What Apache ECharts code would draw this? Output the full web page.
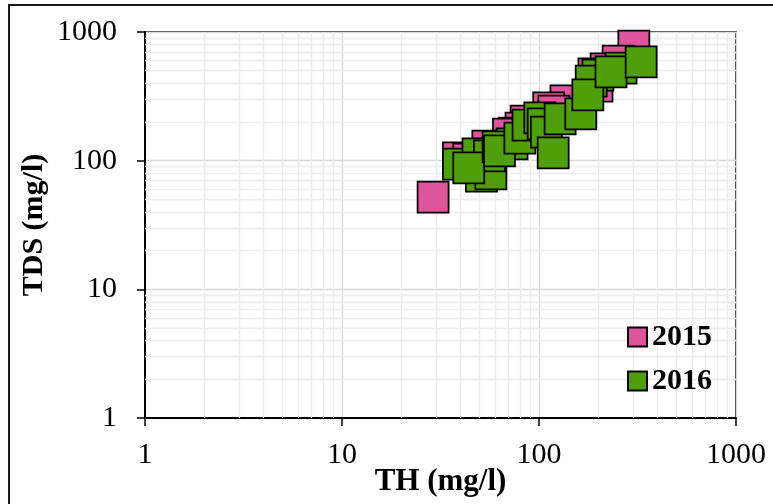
<!DOCTYPE html>
<html><head><meta charset="utf-8">
<script src="https://cdn.jsdelivr.net/npm/echarts@6/dist/echarts.min.js"></script>
<style>html,body{margin:0;padding:0;background:#fff}#c{width:773px;height:504px}</style>
</head><body><div id="c"></div>
<script>
// 2015 series (TH, TDS in mg/l)
const th2015  = [29, 303, 252, 219, 190, 197, 137, 112, 119, 86, 81, 75, 70, 55, 39, 44];
const tds2015 = [52, 778, 595, 516, 472, 380, 291, 257, 243, 203, 179, 164, 161, 130, 105, 103];
// 2016 series
const th2016  = [39, 51, 57, 49, 56, 44, 73, 62, 63, 80, 88, 101, 105, 109, 128, 163, 199, 184, 177, 261, 232, 330, 118];
const tds2016 = [94, 76, 79, 113, 109, 88, 135, 128, 119, 150, 189, 215, 193, 167, 211, 231, 463, 416, 324, 525, 489, 585, 115];
const seriesNames = ['2015', '2016'];
const tickValues = [1, 10, 100, 1000];
const minorMultiples = [2, 3, 4, 5, 6, 7, 8, 9];
const decades = [1, 10, 100];

const zip = (a, b) => a.map((v, i) => [v, b[i]]);
const minorVals = [];
decades.forEach(d => minorMultiples.forEach(m => minorVals.push(d * m)));
const minorLines = [];
minorVals.forEach(v => { minorLines.push({xAxis: v}); minorLines.push({yAxis: v}); });

const serif = 'Liberation Serif, Times New Roman, serif';
const chart = echarts.init(document.getElementById('c'), null, {renderer: 'canvas'});
const fmt = v => String(Math.round(v));

chart.setOption({
  animation: false,
  backgroundColor: '#fff',
  graphic: [{
    type: 'rect', z: 100, silent: true,
    shape: {x: 9, y: 5, width: 820, height: 560},
    style: {fill: 'none', stroke: '#1a1a1a', lineWidth: 2}
  }],
  grid: {left: 145, right: 37, top: 32, bottom: 86, show: true, borderColor: '#000', borderWidth: 1.5,
         backgroundColor: 'transparent', containLabel: false, outerBoundsMode: 'none'},
  xAxis: {
    type: 'log', logBase: 10, min: 1, max: 1000,
    name: 'TH (mg/l)', nameLocation: 'middle', nameGap: 48, nameMoveOverlap: false,
    nameTextStyle: {fontFamily: serif, fontSize: 31, fontWeight: 'bold', color: '#000'},
    axisLine: {show: true, lineStyle: {color: '#000', width: 2}},
    axisTick: {show: true, inside: false, length: 8, lineStyle: {color: '#000', width: 1.5}},
    axisLabel: {fontFamily: serif, fontSize: 30, color: '#000', margin: 22, formatter: fmt},
    splitLine: {show: true, lineStyle: {color: '#d9d9d9', width: 1.3}}
  },
  yAxis: {
    type: 'log', logBase: 10, min: 1, max: 1000,
    name: 'TDS (mg/l)', nameLocation: 'middle', nameGap: 96, nameMoveOverlap: false,
    nameTextStyle: {fontFamily: serif, fontSize: 30, fontWeight: 'bold', color: '#000'},
    axisLine: {show: true, lineStyle: {color: '#000', width: 2}},
    axisTick: {show: true, inside: false, length: 8, lineStyle: {color: '#000', width: 1.5}},
    axisLabel: {fontFamily: serif, fontSize: 30, color: '#000', margin: 28, formatter: fmt},
    splitLine: {show: true, lineStyle: {color: '#d9d9d9', width: 1.3}}
  },
  legend: {
    data: seriesNames, orient: 'vertical', left: 627, top: 322, itemGap: 14, padding: 0,
    itemWidth: 19, itemHeight: 19, icon: 'rect',
    textStyle: {fontFamily: serif, fontSize: 30, fontWeight: 'bold', color: '#000'}
  },
  series: [
    {
      name: seriesNames[0], type: 'scatter', symbol: 'rect', symbolSize: 31, z: 3,
      itemStyle: {color: '#DE559B', borderColor: '#000', borderWidth: 1.75, opacity: 1},
      data: zip(th2015, tds2015),
      markLine: {
        silent: true, symbol: 'none', z: 1, animation: false,
        label: {show: false},
        lineStyle: {color: '#ececec', width: 1.3, type: 'solid'},
        data: minorLines
      }
    },
    {
      name: seriesNames[1], type: 'scatter', symbol: 'rect', symbolSize: 31, z: 4,
      itemStyle: {color: '#4E9F0A', borderColor: '#000', borderWidth: 1.75, opacity: 1},
      data: zip(th2016, tds2016)
    }
  ]
});
</script></body></html>
